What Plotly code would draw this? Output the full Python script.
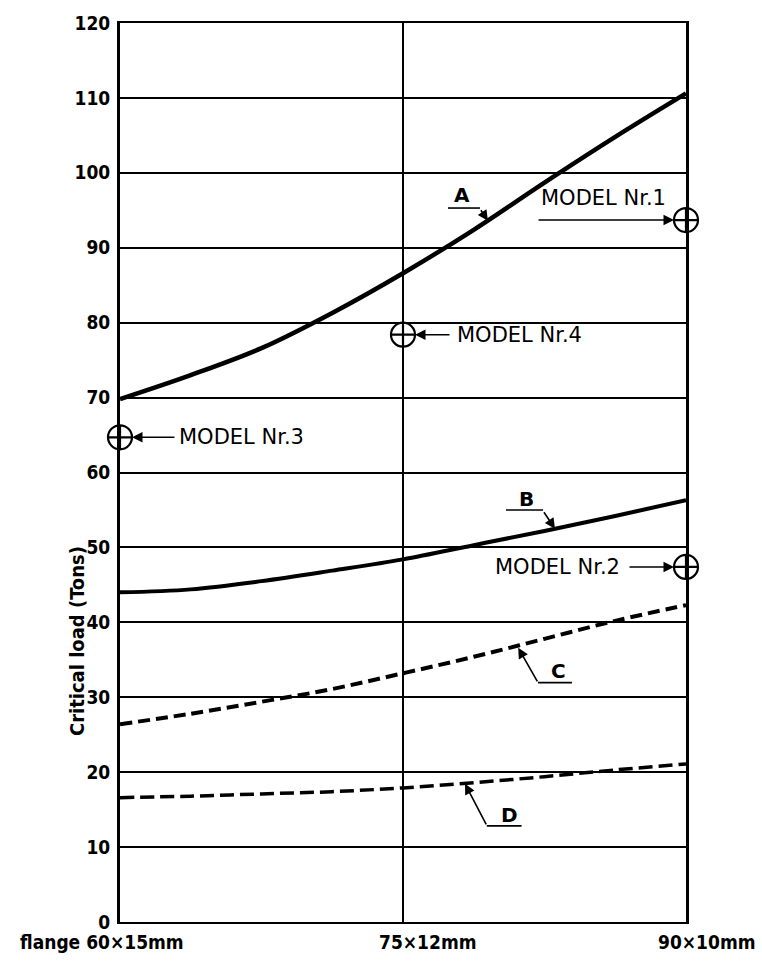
import plotly.graph_objects as go

# ---- data ----
x_pos = [0, 0.25, 0.5, 0.75, 1.0, 1.25, 1.5, 1.75, 2.0]
curve_A = [69.8, 73.0, 76.6, 81.3, 86.6, 92.4, 98.7, 104.8, 110.6]
curve_B = [44.0, 44.4, 45.5, 46.9, 48.4, 50.3, 52.2, 54.2, 56.3]
curve_C = [26.4, 27.8, 29.4, 31.1, 33.2, 35.4, 37.8, 40.2, 42.3]
curve_D = [16.6, 16.8, 17.1, 17.4, 17.9, 18.6, 19.4, 20.3, 21.1]

model_names = ["MODEL Nr.1", "MODEL Nr.2", "MODEL Nr.3", "MODEL Nr.4"]
model_x = [2, 2, 0, 1]
model_y = [93.7, 47.4, 64.7, 78.4]

tick_vals = [0, 1, 2]
tick_text = ["flange 60×15mm", "75×12mm", "90×10mm"]
y_ticks = list(range(0, 121, 10))

FONT_B = "DejaVu Sans Condensed, DejaVu Sans, sans-serif"
FONT_R = "DejaVu Sans, sans-serif"

fig = go.Figure()

styles = [
    (curve_A, 4.5, "solid"),
    (curve_B, 4, "solid"),
    (curve_C, 4, "12px,6px"),
    (curve_D, 3.5, "14px,6px"),
]
for ys, w, dash in styles:
    fig.add_trace(go.Scatter(x=x_pos, y=ys, mode="lines",
                             line=dict(color="black", width=w, dash=dash, shape="spline"),
                             showlegend=False, hoverinfo="skip"))

fig.add_trace(go.Scatter(x=model_x, y=model_y, mode="markers",
                         marker=dict(symbol="circle-cross-open", size=24,
                                     line=dict(color="black", width=2.2), color="black"),
                         cliponaxis=False, showlegend=False, hoverinfo="skip"))

ann = []
model_text_pos = [(1.707, 96.6, "center"), (1.774, 47.4, "right"),
                  (0.201, 64.7, "left"), (1.184, 78.4, "left")]
model_arrow_ax = [-149, -58, 56, 48]
for name, mx, my, (tx, ty, anc), axo in zip(model_names, model_x, model_y,
                                               model_text_pos, model_arrow_ax):
    ann.append(dict(x=tx, y=ty, text=name, showarrow=False, xanchor=anc,
                    font=dict(family=FONT_R, size=21, color="black")))
    ann.append(dict(x=mx, y=my, ax=axo, ay=0, text="", showarrow=True,
                    arrowhead=2, arrowsize=1.4, arrowwidth=1.5, arrowcolor="black",
                    standoff=12))

letters = ["A", "B", "C", "D"]
letter_pos = [(1.208, 97.0), (1.437, 56.5), (1.548, 33.5), (1.378, 14.3)]
underline = [(1.159, 1.272, 95.3), (1.364, 1.495, 55.0),
             (1.477, 1.597, 31.95), (1.296, 1.419, 12.83)]
arrow_head = [(1.300, 93.6), (1.537, 52.5), (1.407, 36.6), (1.219, 18.45)]
arrow_off = [(-8, -12), (-12, -18), (20, 35), (22, 42)]
shapes = []
for L, (lx, ly), (u0, u1, uy), (hx, hy), (ox, oy) in zip(letters, letter_pos, underline,
                                                         arrow_head, arrow_off):
    ann.append(dict(x=lx, y=ly, text=f"<b>{L}</b>", showarrow=False,
                    font=dict(family=FONT_R, size=20, color="black")))
    shapes.append(dict(type="line", xref="x", yref="y", x0=u0, x1=u1, y0=uy, y1=uy,
                       line=dict(color="black", width=1.6)))
    ann.append(dict(x=hx, y=hy, ax=ox, ay=oy, text="", showarrow=True,
                    arrowhead=2, arrowsize=1.3, arrowwidth=1.6, arrowcolor="black"))

x_shift = [-18, 25, 21]
for tv, tt, sh in zip(tick_vals, tick_text, x_shift):
    ann.append(dict(x=tv, y=0, yref="paper", text=f"<b>{tt}</b>", showarrow=False,
                    xshift=sh, yshift=-20, yanchor="middle",
                    font=dict(family=FONT_B, size=19, color="black")))

ann.append(dict(x=0, xref="paper", xshift=-57, y=37.5, yref="y",
                text="<b>Critical load (Tons)</b>",
                textangle=-90, showarrow=False,
                font=dict(family=FONT_B, size=20, color="black")))

fig.update_layout(
    width=762, height=962,
    margin=dict(l=120, r=76, t=19, b=40),
    paper_bgcolor="white", plot_bgcolor="white",
    annotations=ann, shapes=shapes,
    showlegend=False,
)
fig.update_xaxes(range=[0, 2], tickvals=tick_vals, ticktext=["", "", ""],
                 showgrid=True, gridcolor="black", gridwidth=2,
                 showline=True, linecolor="black", linewidth=2, mirror=True,
                 zeroline=False, ticks="")
fig.update_yaxes(range=[0, 120], tickvals=y_ticks,
                 ticktext=[f"<b>{v}</b>" for v in y_ticks],
                 tickfont=dict(family=FONT_B, size=19, color="black"),
                 showgrid=True, gridcolor="black", gridwidth=1.5,
                 showline=True, linecolor="black", linewidth=3, mirror=True,
                 zeroline=False, ticks="", ticklabelstandoff=3)

fig.write_html("out.html", config={"displayModeBar": False},
               post_script="document.body.style.margin='0';document.body.style.overflow='hidden';")
